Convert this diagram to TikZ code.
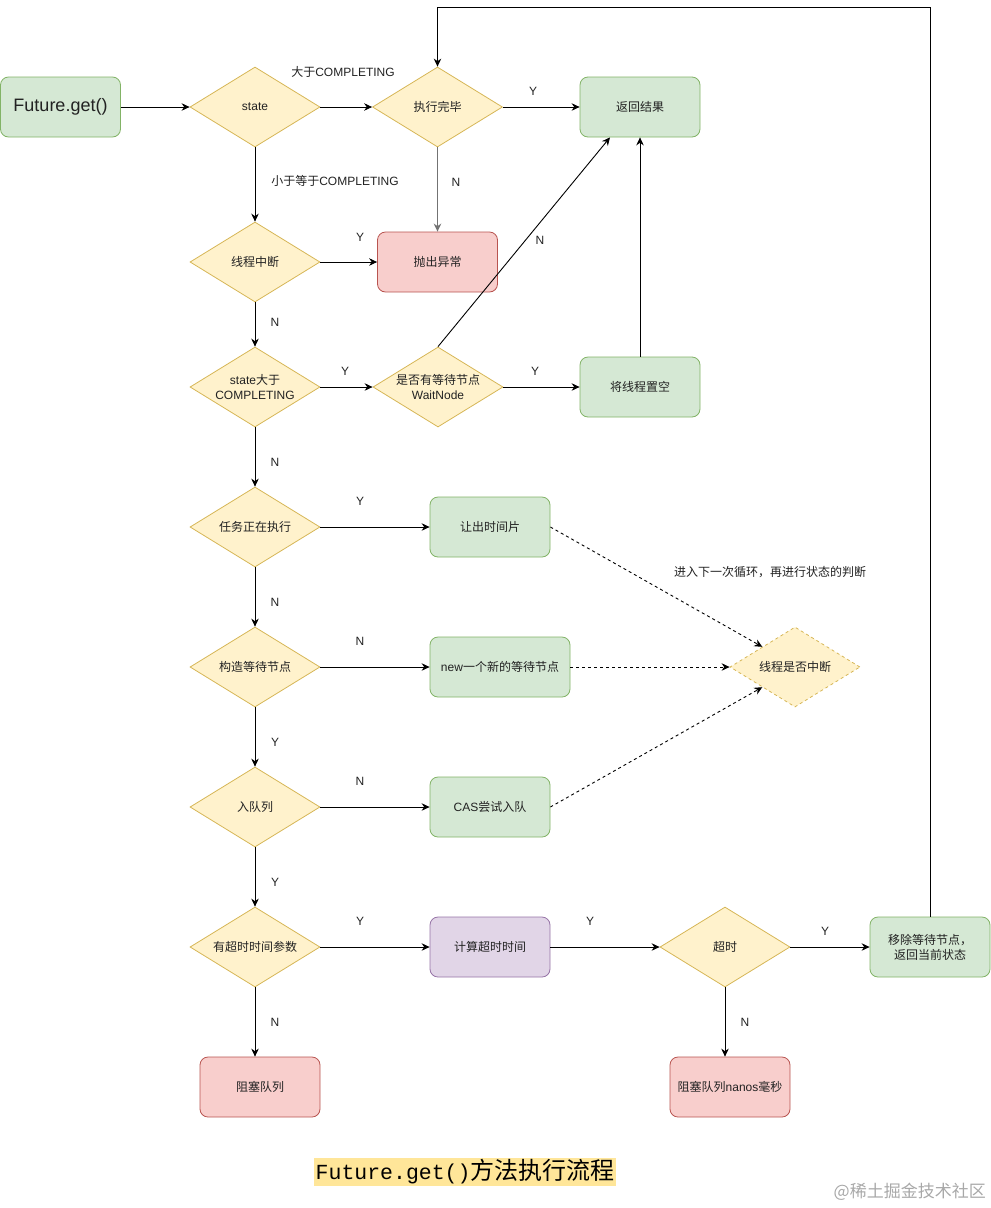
\documentclass[tikz,border=0pt]{standalone}
\usepackage{fontspec}
\setmainfont{Liberation Sans}
\newfontfamily\cjk{Noto Sans CJK SC}
\newfontfamily\capmono{Liberation Mono}
\usetikzlibrary{shapes.geometric,arrows.meta}
\newcommand{\zh}[1]{{\cjk #1}}
\definecolor{gfill}{HTML}{D5E8D4}\definecolor{gdraw}{HTML}{82B366}
\definecolor{yfill}{HTML}{FFF2CC}\definecolor{ydraw}{HTML}{D6B656}
\definecolor{rfill}{HTML}{F8CECC}\definecolor{rdraw}{HTML}{B85450}
\definecolor{pfill}{HTML}{E1D5E7}\definecolor{pdraw}{HTML}{9673A6}
\definecolor{txt}{HTML}{222222}
\definecolor{capbg}{HTML}{FFE699}
\definecolor{wm}{HTML}{A8A8A8}
\tikzset{
  basefont/.style={font=\fontsize{12}{15}\selectfont, text=txt},
  box/.style={rectangle, rounded corners=8pt, minimum width=120pt, minimum height=60pt, inner sep=2pt, align=center, line width=0.8pt, basefont},
  gbox/.style={box, draw=gdraw, fill=gfill},
  rbox/.style={box, draw=rdraw, fill=rfill},
  pbox/.style={box, draw=pdraw, fill=pfill},
  dia/.style={diamond, draw=ydraw, fill=yfill, minimum width=130pt, minimum height=80pt, inner sep=0pt, shape aspect=1.625, align=center, line width=0.8pt, basefont},
  lbl/.style={basefont, inner sep=1pt},
  arr/.style={-{Stealth[length=8pt,width=7.5pt]}, line width=0.9pt, black},
  darr/.style={arr, dash pattern=on 3pt off 3pt},
}
\begin{document}
\begin{tikzpicture}[x=1pt,y=-1pt]
\useasboundingbox (0,0) rectangle (991,1208);
% nodes
\node[gbox, font=\fontsize{18}{20}\selectfont] (fg) at (60.5,107) {Future.get()};
\node[dia] (st) at (255,107) {state};
\node[dia] (done) at (437.5,107) {\zh{执行完毕}};
\node[gbox] (ret) at (640,107) {\zh{返回结果}};
\node[dia] (intr) at (255,262) {\zh{线程中断}};
\node[rbox] (exc) at (437.5,262) {\zh{抛出异常}};
\node[dia] (stc) at (255,387) {state\zh{大于}\\COMPLETING};
\node[dia] (wn) at (438,387) {\zh{是否有等待节点}\\WaitNode};
\node[gbox] (nul) at (640,387) {\zh{将线程置空}};
\node[dia] (run) at (255,527) {\zh{任务正在执行}};
\node[gbox] (yld) at (490,527) {\zh{让出时间片}};
\node[dia] (mk) at (255,667) {\zh{构造等待节点}};
\node[gbox, minimum width=140pt] (nw) at (500,667) {new\zh{一个新的等待节点}};
\node[dia, dashed, dash pattern=on 3pt off 3pt] (chk) at (795,667) {\zh{线程是否中断}};
\node[dia] (enq) at (255,807) {\zh{入队列}};
\node[gbox] (cas) at (490,807) {CAS\zh{尝试入队}};
\node[dia] (hto) at (255,947) {\zh{有超时时间参数}};
\node[pbox] (calc) at (490,947) {\zh{计算超时时间}};
\node[dia] (to) at (725,947) {\zh{超时}};
\node[gbox] (rm) at (930,947) {\zh{移除等待节点，}\\\zh{返回当前状态}};
\node[rbox] (blk) at (260,1087) {\zh{阻塞队列}};
\node[rbox] (blkn) at (730,1087) {\zh{阻塞队列}nanos\zh{毫秒}};
\coordinate (looptop) at (437.5,7);
% connectors
\draw[arr] (fg) -- (st);
\draw[arr] (st) -- (done);
\draw[arr] (done) -- (ret);
\draw[arr, draw=black!55, line width=1.3pt] (done) -- (exc);
\draw[arr] (st) -- (intr);
\draw[arr] (intr) -- (exc);
\draw[arr] (intr) -- (stc);
\draw[arr] (stc) -- (wn);
\draw[arr] (wn) -- (nul);
\draw[arr] (wn.north) -- ([xshift=-30pt]ret.south);
\draw[arr] (nul) -- (ret);
\draw[arr] (stc) -- (run);
\draw[arr] (run) -- (yld);
\draw[arr] (run) -- (mk);
\draw[arr] (mk) -- (nw);
\draw[arr] (mk) -- (enq);
\draw[arr] (enq) -- (cas);
\draw[arr] (enq) -- (hto);
\draw[arr] (hto) -- (calc);
\draw[arr] (hto) -- (hto |- blk.north);
\draw[arr] (calc) -- (to);
\draw[arr] (to) -- (rm);
\draw[arr] (to) -- (to |- blkn.north);
\draw[arr] (rm.north) |- (looptop) -- (done.north);
\draw[darr] (yld.east) -- (chk.north west);
\draw[darr] (nw.east) -- (chk.west);
\draw[darr] (cas.east) -- (chk.south west);
% labels
\node[lbl] (l1) at (343,72) {\zh{大于}COMPLETING};
\node[lbl] (l2) at (335,181) {\zh{小于等于}COMPLETING};
\node[lbl] (l3) at (533,91) {Y};
\node[lbl] (l4) at (456,182) {N};
\node[lbl] (l5) at (360,237) {Y};
\node[lbl] (l6) at (540,240) {N};
\node[lbl] (l7) at (275,322) {N};
\node[lbl] (l8) at (345,371) {Y};
\node[lbl] (l9) at (535,371) {Y};
\node[lbl] (l10) at (275,462) {N};
\node[lbl] (l11) at (360,501) {Y};
\node[lbl] (l12) at (770,572) {\zh{进入下一次循环，再进行状态的判断}};
\node[lbl] (l13) at (275,602) {N};
\node[lbl] (l14) at (360,641) {N};
\node[lbl] (l15) at (275,742) {Y};
\node[lbl] (l16) at (360,781) {N};
\node[lbl] (l17) at (275,882) {Y};
\node[lbl] (l18) at (360,921) {Y};
\node[lbl] (l19) at (590,921) {Y};
\node[lbl] (l20) at (825,931) {Y};
\node[lbl] (l21) at (275,1022) {N};
\node[lbl] (l22) at (745,1022) {N};
% caption
\node[fill=capbg, inner sep=1.5pt, text=black, anchor=west] (cap) at (314,1172) {{\capmono\fontsize{21.5}{24}\selectfont Future.get()}{\cjk\fontsize{24}{26}\selectfont 方法执行流程}};
\node[text=wm, anchor=east, inner sep=0pt] (wmk) at (986,1192) {\cjk\fontsize{17}{19}\selectfont @稀土掘金技术社区};
\end{tikzpicture}
\end{document}
